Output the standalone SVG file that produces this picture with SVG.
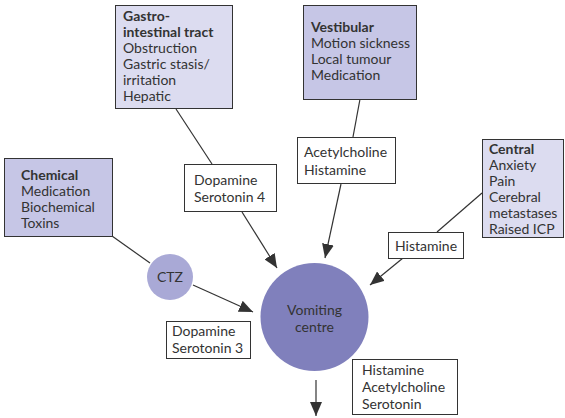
<svg xmlns="http://www.w3.org/2000/svg" width="565" height="418" viewBox="0 0 565 418">
<defs>
<marker id="ah" viewBox="0 0 14 12" refX="14" refY="6" markerWidth="14" markerHeight="12" markerUnits="userSpaceOnUse" orient="auto">
<path d="M0,0 L14,6 L0,12 Z" fill="#333"/>
</marker>
<style>
text{font-family:Lato,"Liberation Sans",sans-serif;font-size:14px;fill:#333}
.b{font-weight:bold}
.src{stroke:#333;stroke-width:1}
.light{fill:#dcdcf0}
.mid{fill:#c6c6e6}
.lbl{fill:#fff;stroke:#333;stroke-width:1}
.ln{stroke:#333;stroke-width:1.2;fill:none}
</style>
</defs>
<rect width="565" height="418" fill="#fff"/>
<g id="connectors">
<line class="ln" x1="176" y1="109" x2="212" y2="164"/>
<line class="ln" x1="242" y1="212" x2="277" y2="268" marker-end="url(#ah)"/>
<line class="ln" x1="360" y1="99" x2="353" y2="137"/>
<line class="ln" x1="341" y1="184" x2="325" y2="258" marker-end="url(#ah)"/>
<line class="ln" x1="482" y1="193" x2="437" y2="232"/>
<line class="ln" x1="403" y1="258" x2="370" y2="285" marker-end="url(#ah)"/>
<line class="ln" x1="112" y1="236" x2="150" y2="263"/>
<line class="ln" x1="193" y1="285" x2="253" y2="312" marker-end="url(#ah)"/>
<line class="ln" x1="316" y1="380" x2="316" y2="416" marker-end="url(#ah)"/>
</g>
<g id="gastro">
<rect class="src light" x="115.5" y="5.5" width="117" height="103"/>
<text x="123" y="21" class="b">Gastro-</text>
<text x="123" y="37" class="b">intestinal tract</text>
<text x="123" y="53">Obstruction</text>
<text x="123" y="69">Gastric stasis/</text>
<text x="123" y="85">irritation</text>
<text x="123" y="101">Hepatic</text>
</g>
<g id="vestibular">
<rect class="src mid" x="303.5" y="5.5" width="113" height="94"/>
<text x="311" y="32" class="b">Vestibular</text>
<text x="311" y="48">Motion sickness</text>
<text x="311" y="64">Local tumour</text>
<text x="311" y="80">Medication</text>
</g>
<g id="chemical">
<rect class="src mid" x="4.5" y="158.5" width="108" height="78"/>
<text x="21" y="180" class="b">Chemical</text>
<text x="21" y="196">Medication</text>
<text x="21" y="212">Biochemical</text>
<text x="21" y="228">Toxins</text>
</g>
<g id="central">
<rect class="src light" x="482.5" y="139.5" width="81" height="98"/>
<text x="489" y="154" class="b">Central</text>
<text x="489" y="170">Anxiety</text>
<text x="489" y="186">Pain</text>
<text x="489" y="202">Cerebral</text>
<text x="489" y="218">metastases</text>
<text x="489" y="234">Raised ICP</text>
</g>
<g id="lbl-dopa4">
<rect class="lbl" x="184.5" y="164.5" width="92" height="47"/>
<text x="194" y="185">Dopamine</text>
<text x="194" y="202">Serotonin 4</text>
</g>
<g id="lbl-acetyl">
<rect class="lbl" x="297.5" y="137.5" width="98" height="46"/>
<text x="304" y="157">Acetylcholine</text>
<text x="304" y="175">Histamine</text>
</g>
<g id="lbl-hist">
<rect class="lbl" x="388.5" y="232.5" width="75" height="26"/>
<text x="395" y="251">Histamine</text>
</g>
<g id="ctz">
<circle cx="170" cy="277" r="23" fill="#a9a9d6"/>
<text x="170" y="282" text-anchor="middle">CTZ</text>
</g>
<g id="vomiting">
<circle cx="314.5" cy="317" r="54" fill="#8080bc"/>
<text x="314.5" y="315" text-anchor="middle">Vomiting</text>
<text x="314.5" y="332" text-anchor="middle">centre</text>
</g>
<g id="lbl-dopa3">
<rect class="lbl" x="166.5" y="321.5" width="84" height="37"/>
<text x="172" y="336">Dopamine</text>
<text x="172" y="353">Serotonin 3</text>
</g>
<g id="lbl-out">
<rect class="lbl" x="352.5" y="359.5" width="105" height="55"/>
<text x="362" y="375">Histamine</text>
<text x="362" y="392">Acetylcholine</text>
<text x="362" y="409">Serotonin</text>
</g>
</svg>
